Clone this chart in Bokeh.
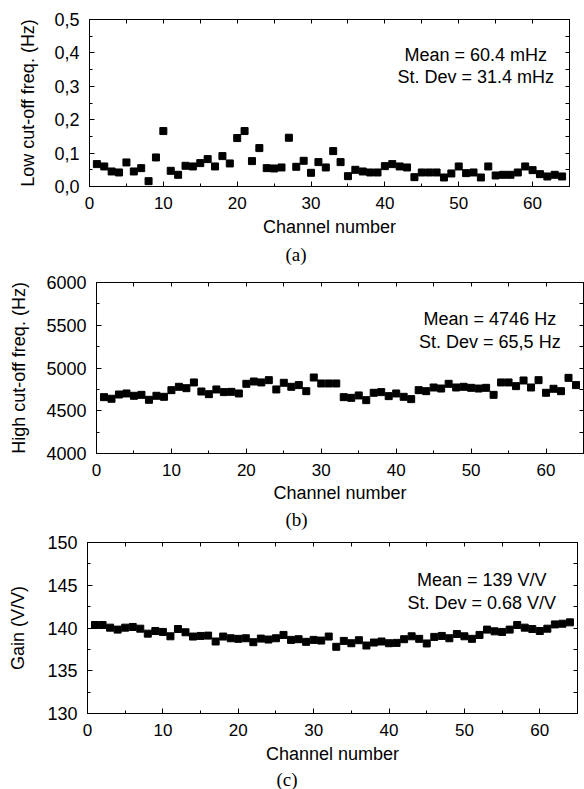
from bokeh.plotting import figure
from bokeh.models import Range1d, LinearAxis, FixedTicker, CustomJSTickFormatter, Label, Title
from bokeh.embed import file_html
from bokeh.resources import INLINE

# ---------------- data ----------------
channels = list(range(1, 65))

low_cutoff_hz = [0.067, 0.060, 0.045, 0.042, 0.072, 0.045, 0.055, 0.016, 0.087, 0.166,
                 0.047, 0.035, 0.062, 0.060, 0.070, 0.082, 0.060, 0.091, 0.069, 0.145,
                 0.166, 0.076, 0.115, 0.055, 0.054, 0.057, 0.146, 0.059, 0.077, 0.041,
                 0.073, 0.057, 0.106, 0.073, 0.031, 0.050, 0.045, 0.042, 0.042, 0.061,
                 0.067, 0.060, 0.057, 0.028, 0.042, 0.042, 0.042, 0.027, 0.039, 0.060,
                 0.040, 0.042, 0.027, 0.060, 0.033, 0.035, 0.035, 0.042, 0.060, 0.049,
                 0.037, 0.030, 0.035, 0.030]

high_cutoff_hz = [4659, 4640, 4690, 4702, 4675, 4686, 4628, 4675, 4663, 4741,
                  4780, 4764, 4831, 4725, 4694, 4749, 4718, 4721, 4702, 4815,
                  4842, 4831, 4858, 4749, 4827, 4780, 4800, 4729, 4889, 4819,
                  4819, 4819, 4659, 4651, 4679, 4624, 4710, 4718, 4671, 4702,
                  4663, 4636, 4741, 4729, 4772, 4760, 4815, 4772, 4780, 4768,
                  4760, 4768, 4686, 4831, 4831, 4788, 4854, 4772, 4858, 4710,
                  4757, 4729, 4885, 4800]

gain_vv = [140.35, 140.35, 140.04, 139.81, 140.04, 140.12, 139.92, 139.34, 139.65, 139.54,
           139.03, 139.88, 139.50, 139.00, 139.07, 139.11, 138.42, 139.00, 138.80, 138.73,
           138.80, 138.34, 138.76, 138.65, 138.80, 139.19, 138.61, 138.69, 138.38, 138.61,
           138.53, 139.00, 137.80, 138.49, 138.22, 138.57, 137.95, 138.30, 138.42, 138.22,
           138.26, 138.69, 139.03, 138.73, 138.19, 138.96, 139.07, 138.80, 139.30, 139.03,
           138.73, 139.19, 139.81, 139.61, 139.54, 139.81, 140.35, 140.04, 139.88, 139.65,
           139.92, 140.42, 140.50, 140.66]

x_ticks = [0, 10, 20, 30, 40, 50, 60]
x_minor = [5, 15, 25, 35, 45, 55, 65]

low_ticks = [0.0, 0.1, 0.2, 0.3, 0.4, 0.5]
low_tick_labels = ["0,0", "0,1", "0,2", "0,3", "0,4", "0,5"]
low_minor = [0.05, 0.15, 0.25, 0.35, 0.45]

high_ticks = [4000, 4500, 5000, 5500, 6000]
high_minor = [4250, 4750, 5250, 5750]

gain_ticks = [130, 135, 140, 145, 150]
gain_minor = [132.5, 137.5, 142.5, 147.5]

stats_a = ["Mean = 60.4 mHz", "St. Dev = 31.4 mHz"]
stats_b = ["Mean = 4746 Hz", "St. Dev = 65,5 Hz"]
stats_c = ["Mean = 139 V/V", "St. Dev = 0.68 V/V"]

SANS = "Liberation Sans"
SERIF = "Liberation Serif"


def style_axis(ax, label_size="17px"):
    ax.major_tick_in = 5
    ax.major_tick_out = 0
    ax.minor_tick_in = 3
    ax.minor_tick_out = 0
    ax.axis_line_color = "black"
    ax.major_tick_line_color = "black"
    ax.minor_tick_line_color = "black"
    ax.major_label_text_font = SANS
    ax.major_label_text_color = "black"
    ax.major_label_text_font_size = label_size
    ax.major_label_standoff = 10
    ax.axis_label_text_font = SANS
    ax.axis_label_text_font_size = "18px"
    ax.axis_label_text_font_style = "normal"
    ax.axis_label_text_color = "black"


def mirror_axis(ticks, minor):
    # mirror axis with only tick marks (no labels at all)
    ax = LinearAxis(ticker=FixedTicker(ticks=[], minor_ticks=ticks + minor))
    ax.major_tick_in = 0
    ax.major_tick_out = 0
    ax.minor_tick_in = 4
    ax.minor_tick_out = 0
    ax.major_label_standoff = 0
    ax.axis_line_color = "black"
    ax.minor_tick_line_color = "black"
    return ax


def make_panel(yvals, yrange, yticks, yminor, ylabel, stats, stats_pos, caption,
               cap_offset, fw, fh, left, right, top, bottom, ylabel_standoff,
               xlabel_standoff, cap_standoff, yformatter=None):
    p = figure(x_range=Range1d(0, 65), y_range=Range1d(*yrange),
               frame_width=fw, frame_height=fh,
               min_border_left=left, min_border_right=right,
               min_border_top=top, min_border_bottom=bottom,
               output_backend="svg", toolbar_location=None,
               x_axis_label="Channel number", y_axis_label=ylabel)
    p.xgrid.visible = False
    p.ygrid.visible = False
    p.outline_line_color = "black"
    p.outline_line_width = 1
    p.background_fill_color = "white"
    p.border_fill_color = "white"

    p.xaxis.ticker = FixedTicker(ticks=x_ticks, minor_ticks=x_minor)
    p.yaxis.ticker = FixedTicker(ticks=yticks, minor_ticks=yminor)
    for ax in p.xaxis:
        style_axis(ax, "17px")
        ax.axis_label_standoff = xlabel_standoff
    for ax in p.yaxis:
        style_axis(ax, "18px")
        ax.axis_label_standoff = ylabel_standoff
        if yformatter is not None:
            ax.formatter = yformatter

    p.add_layout(mirror_axis(x_ticks, x_minor), "above")
    p.add_layout(mirror_axis(yticks, yminor), "right")

    p.scatter(channels, yvals, marker="square", size=7,
              fill_color="black", line_color="black")

    (sx, sy1, sy2) = stats_pos
    for txt, yy in zip(stats, [sy1, sy2]):
        p.add_layout(Label(x=sx, y=yy, text=txt, text_align="center",
                           text_baseline="alphabetic", text_font=SANS,
                           text_font_size="18px", text_color="black"))

    p.add_layout(Title(text=caption, align="left", offset=cap_offset,
                       text_font=SERIF, text_font_size="19px",
                       text_font_style="normal", text_color="black",
                       standoff=cap_standoff), "below")
    return p


low_fmt = CustomJSTickFormatter(args=dict(tick_vals=low_ticks, tick_text=low_tick_labels),
                                code="""
const i = tick_vals.findIndex(t => Math.abs(t - tick) < 1e-9);
return i >= 0 ? tick_text[i] : String(tick);
""")

pa = make_panel(low_cutoff_hz, (0, 0.5), low_ticks, low_minor,
                "Low cut-off freq. (Hz)", stats_a, (52.3, 0.394, 0.327),
                "(a)", 196, 480, 167, 89, 15, 19, 84, 13, 5, 5,
                yformatter=low_fmt)
pb = make_panel(high_cutoff_hz, (4000, 6000), high_ticks, high_minor,
                "High cut-off freq. (Hz)", stats_b, (52.5, 5575, 5302),
                "(b)", 189, 487, 171, 96, 1, 12, 79, 14, 4, 3)
pc = make_panel(gain_vv, (130, 150), gain_ticks, gain_minor,
                "Gain (V/V)", stats_c, (52.3, 145.64, 142.95),
                "(c)", 189, 490, 171, 87, 7, 10, 76, 16, 5, 0)

open("out.html", "w").write(file_html([pa, pb, pc], INLINE))
